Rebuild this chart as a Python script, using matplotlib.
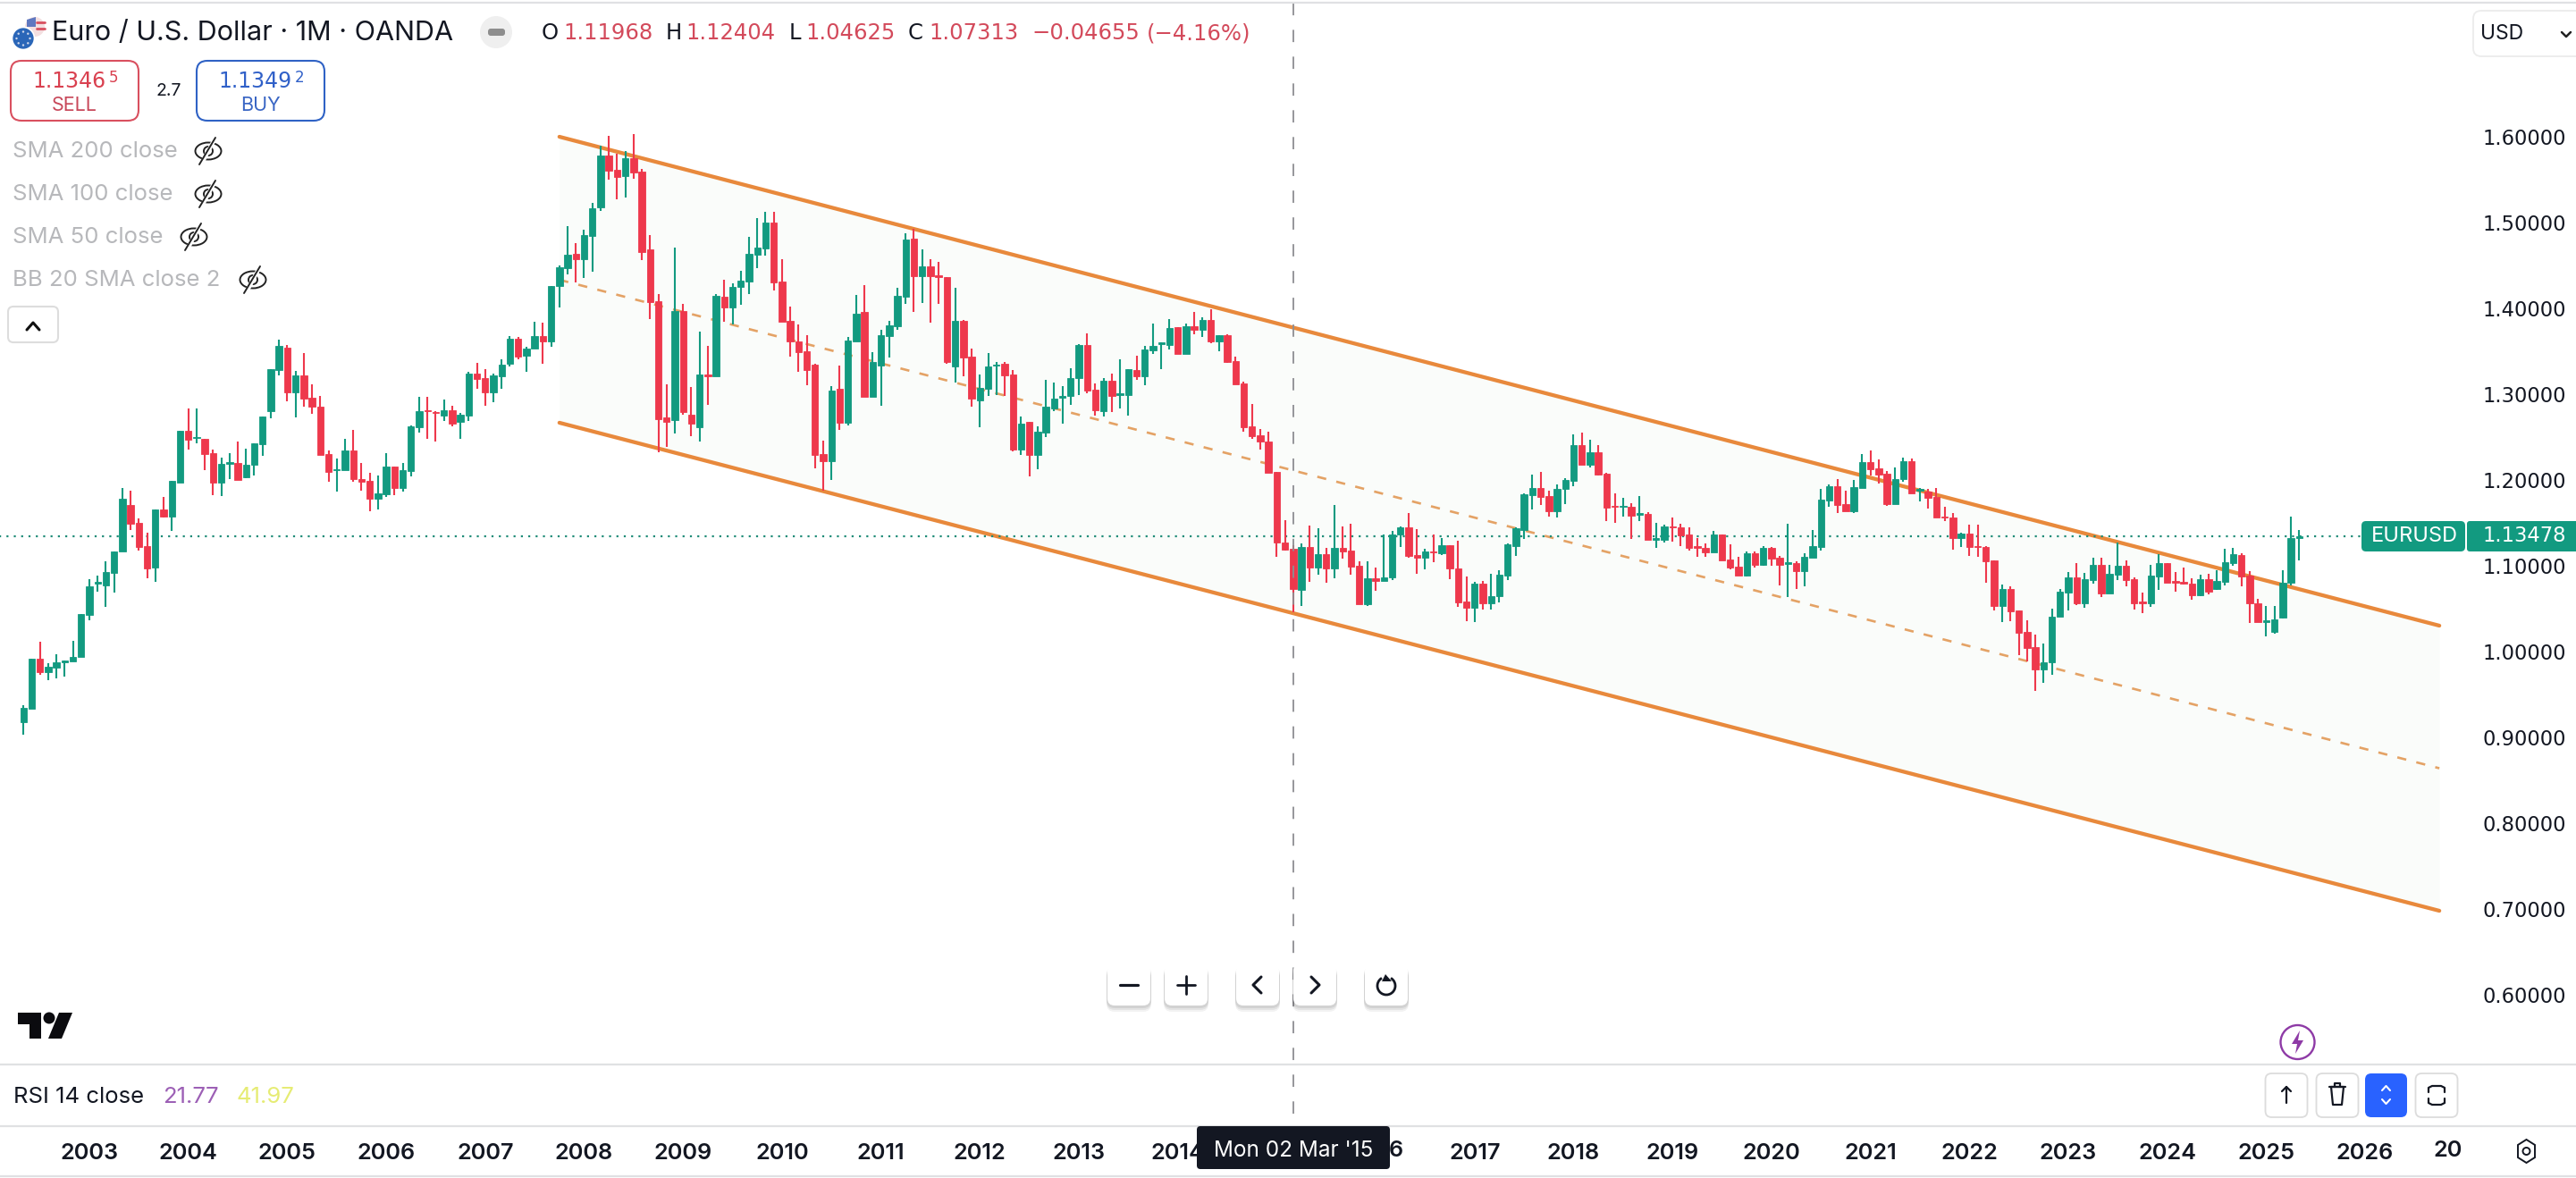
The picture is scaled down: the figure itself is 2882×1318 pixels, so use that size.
import numpy as np
import matplotlib
matplotlib.use('Agg')
import matplotlib.pyplot as plt
from matplotlib.patches import FancyBboxPatch, Circle, Ellipse, Polygon, Arc

plt.rcParams['font.family'] = ['Inter', 'DejaVu Sans']

# months counted from Jan 2003, first candle is May 2002
months = np.arange(-8, 269)

opens = [
  .9178,.933,.9913,.9763,.9817,.987,.9888,.9942,1.0426,1.0796,
  1.0774,1.0918,1.1162,1.1707,1.1499,1.1226,1.0979,1.1653,1.1578,1.1972,
  1.2571,1.2485,1.2475,1.2313,1.1972,1.2191,1.2198,1.203,1.2173,1.2421,
  1.2797,1.3285,1.3544,1.3023,1.3221,1.2955,1.2851,1.2302,1.2112,1.2112,
  1.2342,1.2015,1.1987,1.1779,1.1833,1.2152,1.1911,1.2109,1.2618,1.2808,
  1.279,1.2754,1.2808,1.2676,1.2754,1.3235,1.3185,1.3023,1.3213,1.3357,
  1.3644,1.3443,1.3529,1.3673,1.3615,
  1.4261,1.4469,1.4636,1.4577,1.4844,1.5181,1.5778,1.5615,1.5546,1.5754,
  1.5594,1.4685,1.408,1.2733,1.2699,1.3966,1.2758,1.2619,1.3233,1.3209,
  1.4136,1.4011,1.4251,1.4313,1.4626,1.4702,1.4997,1.431,1.3851,1.3619,
  1.3497,1.3348,1.2299,1.2219,1.3063,1.2664,1.3619,1.3955,1.2969,1.3337,
  1.3678,1.3792,1.4139,1.481,1.4376,1.4487,1.4383,1.4365,1.3323,1.3858,
  1.3435,1.2931,1.3063,1.333,1.3358,1.323,1.2358,1.2674,1.2292,1.2553,
  1.283,1.2959,1.2976,1.3185,1.3574,1.3053,1.2803,1.3157,1.2994,1.2994,
  1.3285,1.3209,1.3511,1.3584,1.3577,1.3782,1.3473,1.3789,
  1.375,1.3868,1.3614,1.3691,1.3385,
  1.3125,1.2622,1.2518,1.2445,1.2094,1.1275,1.11968,1.0719,1.1219,1.0983,
  1.1136,1.0973,1.1205,1.1178,1.0997,1.0556,1.0858,1.0823,1.0865,1.1369,
  1.1448,1.1122,1.1094,1.1171,1.1146,1.1237,1.0973,1.058,1.0511,1.0789,
  1.0563,1.065,1.0886,1.1233,1.1421,1.1827,1.1907,1.1813,1.1639,1.1893,
  1.1994,1.2403,1.2178,1.2323,1.2073,1.1698,1.1685,1.1685,1.1598,1.1605,
  1.1306,1.1299,1.1462,1.1448,1.1362,1.1226,1.1212,1.1157,1.1362,1.1073,
  1.0987,1.0886,1.1143,1.1011,1.1212,1.1091,1.1024,1.1028,1.0938,1.1094,
  1.1219,1.1761,1.1928,
  1.1719,1.1639,1.191,1.2205,1.2132,1.2073,1.1715,1.2014,1.2219,1.1879,
  1.1865,1.1802,1.1577,1.1563,1.1327,1.1372,1.1233,1.1219,1.1063,1.0535,
  1.0726,1.0476,1.0226,1.0049,.9795,.9879,1.0403,1.0691,1.0865,1.0563,
  1.0837,1.1007,1.0674,1.0899,1.0997,1.0844,1.058,1.0566,1.0879,1.1031,
  1.082,1.0809,1.0788,1.0656,1.0844,1.0726,1.0813,1.1028,1.1129,1.0886,
  1.0563,1.0347,1.0226,1.04,1.0802,1.1325]

closes = [
  .934,.9913,.9763,.982,.987,.9892,.9942,1.0434,1.0756,1.081,
  1.0925,1.1165,1.1779,1.1492,1.1219,1.0972,1.1653,1.1574,1.1987,1.2571,
  1.2464,1.2496,1.2306,1.1972,1.2184,1.2206,1.2005,1.2173,1.2424,1.2736,
  1.3289,1.3561,1.3023,1.3221,1.2952,1.2858,1.2295,1.2098,1.212,1.2342,
  1.2015,1.1983,1.1779,1.184,1.2152,1.1911,1.2112,1.2625,1.2797,1.2797,
  1.2779,1.2808,1.2658,1.2758,1.3235,1.3181,1.3023,1.3221,1.3339,1.3644,
  1.344,1.3529,1.3673,1.3619,1.4261,
  1.448,1.4622,1.4573,1.4851,1.5164,1.5778,1.5605,1.5532,1.5747,1.5587,
  1.4657,1.4077,1.2712,1.2681,1.3969,1.2792,1.2657,1.3233,1.3209,1.4146,
  1.4011,1.4247,1.432,1.4632,1.4705,1.4997,1.4303,1.3844,1.3619,1.349,
  1.3282,1.2292,1.2219,1.3039,1.2664,1.3622,1.3935,1.2969,1.3372,1.3685,
  1.3799,1.4146,1.4799,1.4376,1.4487,1.4376,1.4365,1.3372,1.3851,1.3428,
  1.2949,1.3074,1.332,1.3344,1.3219,1.2358,1.2653,1.2292,1.2567,1.2851,
  1.2952,1.2976,1.3185,1.3574,1.3046,1.281,1.3157,1.2983,1.3008,1.3289,
  1.3209,1.3521,1.3567,1.3601,1.3775,1.3473,1.3789,1.3751,
  1.3868,1.3614,1.3687,1.3371,1.3114,
  1.2619,1.2514,1.2445,1.2087,1.1275,1.1188,1.07313,1.1219,1.0983,1.1136,
  1.0973,1.1205,1.1171,1.099,1.0556,1.0858,1.0823,1.0869,1.1369,1.1448,
  1.1112,1.1094,1.1164,1.1157,1.1237,1.0973,1.057,1.0511,1.0789,1.0563,
  1.065,1.0893,1.1247,1.1435,1.1837,1.1907,1.1806,1.1636,1.19,1.2004,
  1.2403,1.2178,1.2323,1.2063,1.1681,1.1685,1.1698,1.1587,1.1612,1.1306,
  1.132,1.1455,1.1452,1.1358,1.1205,1.1212,1.1153,1.1362,1.1067,1.098,
  1.0886,1.1143,1.1011,1.1212,1.1084,1.1014,1.1039,1.0938,1.1101,1.1226,
  1.1768,1.1928,1.1709,
  1.1639,1.1913,1.2205,1.2129,1.2063,1.1715,1.2014,1.2219,1.1847,1.1893,
  1.1795,1.1566,1.1563,1.1327,1.1372,1.1222,1.1219,1.1056,1.0535,1.0726,
  1.0472,1.0222,1.0042,.9795,.9879,1.0406,1.0698,1.0865,1.0563,1.0844,
  1.1007,1.0677,1.0903,1.0997,1.0837,1.0563,1.0563,1.0882,1.1028,1.0802,
  1.0806,1.0788,1.0656,1.0844,1.0695,1.082,1.1038,1.1132,1.0875,1.0563,
  1.0344,1.0361,1.0372,1.0806,1.132,1.13478]

highs = [
  .9376,.9913,1.0111,.986,.9967,.9892,1.0122,1.0434,1.0846,1.0882,
  1.1054,1.1165,1.1904,1.1872,1.1556,1.1384,1.1653,1.1804,1.1987,1.2571,
  1.283,1.283,1.2475,1.2353,1.2256,1.2313,1.2446,1.2363,1.2424,1.2736,
  1.3289,1.3633,1.3569,1.3267,1.3475,1.3113,1.2977,1.2342,1.2252,1.2475,
  1.2579,1.2195,1.2084,1.2048,1.2317,1.2152,1.2195,1.2632,1.2966,1.2966,
  1.2801,1.2934,1.2862,1.2783,1.3264,1.3361,1.3289,1.3242,1.3404,1.3673,
  1.3662,1.3547,1.3841,1.3831,1.4261,
  1.4497,1.4955,1.4757,1.4914,1.5226,1.5893,1.6007,1.5806,1.583,1.6032,
  1.5622,1.4851,1.4164,1.3115,1.4712,1.4053,1.308,1.373,1.3567,1.4164,
  1.433,1.4289,1.4435,1.4834,1.5049,1.5129,1.5129,1.4573,1.4018,1.381,
  1.3685,1.3358,1.2456,1.3098,1.333,1.3671,1.4153,1.4268,1.3487,1.3747,
  1.3851,1.424,1.4876,1.4928,1.4685,1.4573,1.4539,1.4365,1.4237,1.3865,
  1.3532,1.3226,1.3476,1.3372,1.3372,1.3282,1.274,1.2674,1.2629,1.3167,
  1.3133,1.3098,1.3303,1.3584,1.3705,1.3122,1.3185,1.3237,1.3407,1.3289,
  1.3445,1.356,1.382,1.3601,1.3879,1.3782,1.382,1.3959,
  1.3895,1.3989,1.3687,1.3698,1.3434,
  1.3149,1.2882,1.2594,1.2559,1.2094,1.1528,1.12404,1.1258,1.1466,1.1435,
  1.1205,1.1709,1.1455,1.149,1.1049,1.1049,1.098,1.1369,1.1403,1.1455,
  1.1612,1.1424,1.1198,1.1362,1.132,1.1237,1.1292,1.0876,1.0817,1.0823,
  1.0903,1.0945,1.1258,1.1448,1.1844,1.2063,1.2091,1.1872,1.1952,1.2021,
  1.2532,1.2553,1.2469,1.2403,1.208,1.1841,1.1789,1.1726,1.181,1.1622,
  1.15,1.1483,1.156,1.149,1.1448,1.132,1.1258,1.1407,1.1362,1.1247,
  1.1101,1.1164,1.1171,1.1233,1.1223,1.1119,1.149,1.1049,1.1143,1.1414,
  1.19,1.1952,1.2011,
  1.1875,1.1997,1.2299,1.2344,1.2236,1.2101,1.2142,1.2257,1.2247,1.1906,
  1.1892,1.1906,1.1684,1.1611,1.1386,1.1476,1.1483,1.1226,1.1066,1.0778,
  1.0764,1.0476,1.0365,1.0198,1.0094,1.05,1.0726,1.0927,1.1031,1.092,
  1.109,1.109,1.1007,1.1275,1.1059,1.0868,1.0684,1.1007,1.1136,1.1031,
  1.0927,1.0979,1.0858,1.0892,1.091,1.0952,1.1195,1.1205,1.1143,1.0934,
  1.0615,1.0528,1.0528,1.0945,1.157,1.1413]

lows = [
  .9035,.933,.9734,.967,.9691,.9709,.9888,.9942,1.0369,1.0695,
  1.0523,1.0692,1.1162,1.142,1.1176,1.0857,1.081,1.1563,1.1409,1.1972,
  1.2349,1.2432,1.2119,1.1825,1.1815,1.2008,1.2005,1.2019,1.2055,1.2285,
  1.2722,1.3214,1.2919,1.2733,1.2858,1.2769,1.2295,1.1983,1.1868,1.2112,
  1.1983,1.1879,1.1635,1.166,1.1807,1.1825,1.1861,1.2037,1.2557,1.2478,
  1.2453,1.269,1.2629,1.2482,1.2686,1.3059,1.2869,1.2905,1.3066,1.3318,
  1.3411,1.3264,1.3529,1.3357,1.3547,
  1.4011,1.44,1.4303,1.4355,1.4428,1.5136,1.5504,1.5275,1.5296,1.5511,
  1.4567,1.3879,1.2327,1.2386,1.2542,1.2761,1.2515,1.2449,1.2879,1.3209,
  1.3844,1.3817,1.4046,1.4167,1.4469,1.4619,1.4209,1.3844,1.3442,1.3264,
  1.3108,1.2136,1.1872,1.1995,1.2588,1.2639,1.3619,1.2969,1.2969,1.2865,
  1.3428,1.3747,1.4053,1.3959,1.4063,1.3837,1.4053,1.3351,1.3139,1.3212,
  1.2855,1.2619,1.2983,1.2994,1.2983,1.2334,1.2289,1.2046,1.2129,1.2504,
  1.2803,1.2657,1.2879,1.2994,1.3011,1.2751,1.2744,1.2796,1.2837,1.2751,
  1.3167,1.3108,1.3473,1.3296,1.3525,1.3473,1.3473,1.3699,
  1.367,1.359,1.3503,1.3364,1.3114,
  1.2566,1.2483,1.2358,1.2087,1.1101,1.1181,1.04625,1.0528,1.0817,1.0893,
  1.0806,1.0851,1.1084,1.09,1.0556,1.0528,1.0709,1.0823,1.083,1.1223,
  1.1094,1.091,1.0955,1.1042,1.1126,1.0848,1.0521,1.0355,1.0348,1.0494,
  1.0494,1.0573,1.0834,1.1119,1.1317,1.1657,1.1709,1.1577,1.156,1.1719,
  1.1924,1.2178,1.215,1.2056,1.1518,1.1501,1.1577,1.131,1.1525,1.1306,
  1.1212,1.1275,1.1282,1.123,1.1181,1.1108,1.1108,1.1157,1.1067,1.0962,
  1.0886,1.0876,1.098,1.1004,1.1,1.0771,1.0639,1.073,1.0761,1.1094,
  1.1181,1.1691,1.1612,
  1.1639,1.1611,1.191,1.2052,1.1958,1.1702,1.1715,1.1979,1.1847,1.1754,
  1.1663,1.1566,1.1524,1.1191,1.1222,1.1118,1.1108,1.0806,1.0476,1.0347,
  1.0354,.9955,.9886,.9538,.9636,.9729,1.0403,1.0483,1.0538,1.0514,
  1.0788,1.0639,1.0674,1.0837,1.0764,1.0493,1.0452,1.0518,1.0719,1.0802,
  1.0702,1.0778,1.0608,1.0649,1.0667,1.0715,1.0771,1.1004,1.0761,1.0337,
  1.0344,1.0181,1.0212,1.0389,1.0771,1.1066]

# channel drawing, Oct 2007 to Oct 2026
channel_x = [57, 285]
channel_upper = [1.600, 1.0302]
channel_mid = [1.4333, 0.8640]
channel_lower = [1.2667, 0.6979]

last_price = 1.13478
crosshair_month = 146

price_ticks = [0.6, 0.7, 0.8, 0.9, 1.0, 1.1, 1.2, 1.3, 1.4, 1.5, 1.6]
year_ticks = list(range(0, 288, 12))
# 2015 sits fully under the date tag and only the last digit of 2016 shows
year_labels = [str(2003 + i) if i not in (12, 13) else '' for i in range(len(year_ticks))]

GREEN = '#129a80'
RED = '#ee384c'
ORANGE = '#e8893c'
DARK = '#131722'
LINE = '#e0e1e3'
NUM_FONT = 'DejaVu Sans'

W, H = 2882, 1318
fig = plt.figure(figsize=(W / 100, H / 100), dpi=100, facecolor='white')

# price chart, pane runs from the top down to the time scale
ax = fig.add_axes([0, (H - 1260) / H, 2762 / W, 1260 / H])
ax.set_xlim(-100 / 9.225, (2762 - 100) / 9.225)
ax.set_ylim(1.6 - (1260 - 153) / 960, 1.6 + 153 / 960)
for s in ax.spines.values():
  s.set_visible(False)

ax.fill_between(channel_x, channel_lower, channel_upper, color='#fafcfa', lw=0, zorder=1)
ax.plot(channel_x, channel_upper, color=ORANGE, lw=3.1, solid_capstyle='round', zorder=2)
ax.plot(channel_x, channel_lower, color=ORANGE, lw=3.1, solid_capstyle='round', zorder=2)
ax.plot(channel_x, channel_mid, color='#e4a265', lw=1.9, dashes=(3.9, 4.4), zorder=2)
ax.plot([-11, 277.5], [last_price, last_price], color='#1f8c78', lw=1.6, dashes=(1, 2.7), zorder=2.5)

o = np.array(opens)
c = np.array(closes)
colors = [GREEN if c[i] >= o[i] else RED for i in range(len(o))]
ax.vlines(months, lows, highs, colors=colors, lw=1.5, zorder=3)
ax.bar(months, np.abs(c - o), bottom=np.minimum(o, c), width=0.8, color=colors,
       edgecolor=colors, lw=0.6, zorder=4)

ax.vlines(crosshair_month, 1.6 - (1246 - 153) / 960, 1.6 + 153 / 960, colors='#8d8e92',
          lw=1.3, linestyles=[(0, (7.6, 9))], zorder=5)

ax.yaxis.tick_right()
ax.set_yticks(price_ticks)
ax.set_yticklabels(['%.5f' % p for p in price_ticks], fontfamily=NUM_FONT)
ax.tick_params(axis='y', length=0, pad=11.5, labelsize=16.3, labelcolor=DARK)
ax.set_xticks(year_ticks)
ax.set_xticklabels(year_labels, fontweight='semibold')
ax.tick_params(axis='x', length=0, pad=14, labelsize=18.2, labelcolor=DARK)

# everything else is interface, drawn in pixel coordinates
ui = fig.add_axes([0, 0, 1, 1])
ui.set_xlim(0, W)
ui.set_ylim(H, 0)
ui.axis('off')


def box(x0, y0, x1, y1, r=8, fc='white', ec='none', lw=1.5, z=6):
  p = FancyBboxPatch((x0 + r, y0 + r), x1 - x0 - 2 * r, y1 - y0 - 2 * r,
                     boxstyle='round,pad=%d,rounding_size=%d' % (r, r),
                     fc=fc, ec=ec, lw=lw, zorder=z)
  ui.add_patch(p)
  return p


def label(x, y, s, size=16, color=DARK, ha='left', weight='normal', z=8, family=None):
  t = ui.text(x, y, s, fontsize=size, color=color, ha=ha, va='center', fontweight=weight, zorder=z)
  if family:
    t.set_fontfamily(family)


def stroke(xs, ys, color=DARK, lw=2, z=8):
  ui.plot(xs, ys, color=color, lw=lw, solid_capstyle='round', solid_joinstyle='round', zorder=z)


def eye(cx, cy):
  ui.add_patch(Ellipse((cx, cy), 29, 19, fc='none', ec='#222222', lw=1.4, zorder=8))
  ui.add_patch(Circle((cx, cy), 5, fc='none', ec='#222222', lw=1.4, zorder=8))
  stroke([cx - 8, cx + 8], [cy + 15, cy - 15], color='white', lw=3.4)
  stroke([cx - 10, cx + 8], [cy + 15, cy - 15], color='#222222', lw=1.4)


# separators
for yy in [3, 1191, 1260, 1316]:
  ui.plot([0, W], [yy, yy], color=LINE, lw=1.6, zorder=5)

# header
ui.add_patch(Circle((39, 30), 11, fc='#f3dfe0', ec='none', zorder=6))
ui.add_patch(Polygon([(30, 22), (40, 19), (40, 30), (30, 30)], fc='#5f78c0', ec='none', zorder=6))
stroke([41, 50], [25, 25], color='#d8505f', lw=2, z=6)
stroke([41, 50], [32, 32], color='#d8505f', lw=2, z=6)
ui.add_patch(Circle((26, 43), 12.5, fc='#2a66b8', ec='white', lw=1.2, zorder=7))
for a in np.arange(0, 2 * np.pi, np.pi / 4):
  ui.add_patch(Circle((26 + 7.5 * np.cos(a), 43 + 7.5 * np.sin(a)), 1.2, fc='#cfd8ec', ec='none', zorder=8))
label(58, 37, 'Euro / U.S. Dollar · 1M · OANDA', size=22)
ui.add_patch(Ellipse((555, 36), 36, 36, fc='#efefef', ec='none', zorder=6))
box(546, 32, 565, 40, r=3, fc='#8e8e8e', z=7)

OHLC_RED = '#d34a5b'
for x, s in [(606, 'O'), (745, 'H'), (883, 'L'), (1016, 'C')]:
  label(x, 37, s, size=17.5, family=NUM_FONT)
for x, s in [(630, '1.11968'), (767, '1.12404'), (901, '1.04625'), (1039, '1.07313'),
             (1154, '−0.04655'), (1283, '(−4.16%)')]:
  label(x, 37, s, size=17.5, color=OHLC_RED, family=NUM_FONT)

# sell / buy
box(12, 68, 155, 135, r=12, ec='#d9505f', lw=1.5)
label(36, 91, '1.1346', size=17, color='#d9404f', family=NUM_FONT)
label(122, 87, '5', size=12, color='#d9404f', family=NUM_FONT)
label(83, 118, 'SELL', size=15.5, color='#c8485a', ha='center')
label(174, 102, '2.7', size=14)
box(220, 68, 363, 135, r=12, ec='#2f62c5', lw=1.5)
label(244, 91, '1.1349', size=17, color='#3060c8', family=NUM_FONT)
label(330, 87, '2', size=12, color='#3060c8', family=NUM_FONT)
label(291, 118, 'BUY', size=15.5, color='#3a66c4', ha='center')

# hidden studies
for y, s, ex in [(169, 'SMA 200 close', 233), (217, 'SMA 100 close', 233),
                 (265, 'SMA 50 close', 217), (313, 'BB 20 SMA close 2', 283)]:
  label(14, y, s, size=18.5, color='#b7b8bb')
  eye(ex, y)
box(9, 343, 65, 383, r=6, ec='#dddddd', lw=1.5)
stroke([30, 37, 44], [369, 361, 369], color='#111111', lw=2.2)

# currency select
box(2767, 12, 2900, 63, r=9, ec='#ececec', lw=1.3)
label(2775, 38, 'USD', size=16.5)
stroke([2866, 2871, 2876], [36, 41, 36], color='#222222', lw=1.8)

# last price tag
box(2642, 583, 2758, 617, r=5, fc=GREEN)
box(2760, 583, 2900, 617, r=3, fc=GREEN)
label(2653, 600, 'EURUSD', size=17, color='white')
label(2778, 600, '1.13478', size=16.3, color='white', family=NUM_FONT)

# zoom buttons
for x0 in [1239, 1303, 1383, 1447, 1527]:
  for k, a in [(7, 0.05), (5, 0.06), (3, 0.07)]:
    box(x0 - 1, 1078 + k, x0 + 49, 1125 + k, r=9, fc=(0, 0, 0, a), z=6)
  box(x0, 1078, x0 + 48, 1125, r=8, fc='white', z=7)
stroke([1253, 1273], [1102, 1102], lw=2.3)
stroke([1317, 1337], [1102, 1102], lw=2)
stroke([1327, 1327], [1092, 1112], lw=2)
stroke([1411, 1402, 1411], [1093, 1102, 1111], lw=2.2)
stroke([1467, 1476, 1467], [1093, 1102, 1111], lw=2.2)
ui.add_patch(Arc((1551, 1103), 20, 20, theta1=-60, theta2=240, ec=DARK, lw=2, zorder=8))
ui.add_patch(Polygon([(1550, 1090), (1557, 1098), (1546, 1098)], fc=DARK, ec='none', zorder=8))

# tradingview logo
ui.add_patch(Polygon([(20, 1133), (46, 1133), (46, 1162), (33, 1162), (33, 1146), (20, 1146)],
                     fc='#0b0b0f', ec='none', zorder=8))
ui.add_patch(Circle((55, 1139), 6.5, fc='#0b0b0f', ec='none', zorder=8))
ui.add_patch(Polygon([(66, 1133), (81, 1133), (69, 1162), (54, 1162)], fc='#0b0b0f', ec='none', zorder=8))

# bolt
ui.add_patch(Circle((2570.5, 1166), 19, fc='white', ec='#8e3aa6', lw=1.7, zorder=8))
ui.add_patch(Polygon([(2573, 1153), (2564, 1168), (2570, 1168), (2568, 1179), (2577, 1164), (2571, 1164)],
                     fc='#8e3aa6', ec='none', zorder=8))

# rsi pane
label(15, 1227, 'RSI 14 close', size=18.5)
label(182, 1227, '21.77', size=18.5, color='#9c5fb5')
label(265, 1227, '41.97', size=18.5, color='#e6ec74')
for cx in [2558, 2615, 2726]:
  box(cx - 23.5, 1201, cx + 23.5, 1250, r=7, ec='#dcdcdc', lw=1.3)
box(2646, 1201, 2693, 1250, r=7, fc='#2962ff')
stroke([2558, 2558], [1216, 1234], lw=1.6)
stroke([2553, 2558, 2563], [1221, 1216, 1221], lw=1.6)
stroke([2606, 2624], [1216, 1216], lw=1.6)
stroke([2608, 2610, 2620, 2622, 2608], [1216, 1236, 1236, 1216, 1216], lw=1.6)
stroke([2612, 2612, 2618, 2618], [1216, 1212, 1212, 1216], lw=1.6)
stroke([2665, 2669.5, 2674], [1220, 1215, 1220], color='white', lw=1.5)
stroke([2665, 2669.5, 2674], [1230, 1235, 1230], color='white', lw=1.5)
stroke([2717, 2717, 2721, 2731, 2735, 2735], [1222, 1217, 1215, 1215, 1217, 1222], lw=1.6)
stroke([2717, 2717, 2721, 2731, 2735, 2735], [1229, 1234, 1236, 1236, 1234, 1229], lw=1.6)

# time scale extras
label(2739, 1288, '20', size=18.2, ha='center', weight='semibold')
label(1570, 1288, '6', size=18.2, ha='right', weight='semibold')
ui.add_patch(Polygon([(2826.5, 1275), (2836, 1281), (2836, 1295), (2826.5, 1301), (2817, 1295), (2817, 1281)],
                     fc='white', ec=DARK, lw=1.4, zorder=8))
ui.add_patch(Circle((2826.5, 1288), 4, fc='white', ec=DARK, lw=1.4, zorder=9))

# crosshair date tag
box(1339, 1260, 1555, 1308, r=4, fc=DARK, z=7)
label(1447, 1288, "Mon 02 Mar '15", size=17.5, color='white', ha='center')

fig.savefig('out.png', dpi=100)
